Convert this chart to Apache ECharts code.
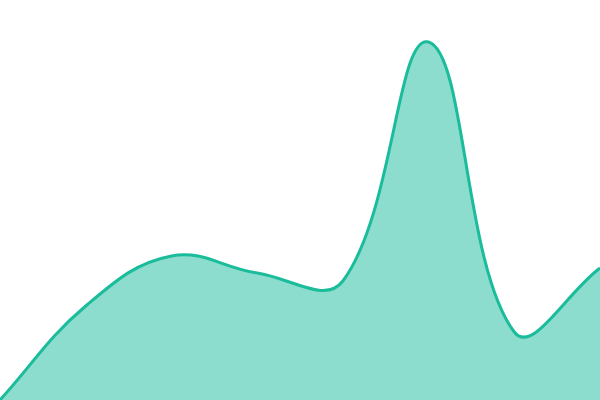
<!DOCTYPE html>
<html>
<head>
<meta charset="utf-8">
<script src="https://cdn.jsdelivr.net/npm/echarts@6/dist/echarts.min.js"></script>
<style>
html,body{margin:0;padding:0;background:#fff;}
#main{width:600px;height:400px;}
</style>
</head>
<body>
<div id="main"></div>
<script>
const categories = ['1', '2', '3', '4', '5', '6', '7', '8'];
const values = [0, 94, 144, 127, 119, 358, 68, 132];
const tension = 0.4;

function renderArea(params, api) {
  const pts = values.map((v, i) => api.coord([i, v]));
  const cs = params.coordSys;
  const n = pts.length;
  const clampX = x => Math.max(cs.x, Math.min(cs.x + cs.width, x));
  const clampY = y => Math.max(cs.y, Math.min(cs.y + cs.height, y));
  const cpPrev = [], cpNext = [];
  for (let i = 0; i < n; i++) {
    const prev = pts[Math.max(0, i - 1)];
    const cur = pts[i];
    const next = pts[Math.min(n - 1, i + 1)];
    const d01 = Math.hypot(cur[0] - prev[0], cur[1] - prev[1]);
    const d12 = Math.hypot(next[0] - cur[0], next[1] - cur[1]);
    const tot = d01 + d12 || 1;
    const fa = tension * d01 / tot;
    const fb = tension * d12 / tot;
    cpPrev[i] = [clampX(cur[0] - fa * (next[0] - prev[0])), clampY(cur[1] - fa * (next[1] - prev[1]))];
    cpNext[i] = [clampX(cur[0] + fb * (next[0] - prev[0])), clampY(cur[1] + fb * (next[1] - prev[1]))];
  }
  let d = 'M' + pts[0][0] + ',' + pts[0][1];
  for (let i = 0; i < n - 1; i++) {
    d += ' C' + cpNext[i][0] + ',' + cpNext[i][1] + ' ' +
      cpPrev[i + 1][0] + ',' + cpPrev[i + 1][1] + ' ' +
      pts[i + 1][0] + ',' + pts[i + 1][1];
  }
  const bottom = cs.y + cs.height;
  const area = d + ' L' + pts[n - 1][0] + ',' + bottom + ' L' + pts[0][0] + ',' + bottom + ' Z';
  return {
    type: 'group',
    children: [
      { type: 'path', shape: { pathData: area }, style: { fill: 'rgba(26,188,156,0.5)', stroke: null } },
      { type: 'path', shape: { pathData: d }, style: { fill: null, stroke: '#1abc9c', lineWidth: 3, lineJoin: 'round' } }
    ]
  };
}

const chart = echarts.init(document.getElementById('main'));
chart.setOption({
  animation: false,
  grid: { left: 0, right: 0, top: 0, bottom: 0 },
  xAxis: { type: 'category', data: categories, boundaryGap: false, show: false },
  yAxis: { type: 'value', min: 0, max: 400, show: false },
  series: [{
    type: 'custom',
    renderItem: renderArea,
    data: [[0, 0]],
    clip: false
  }]
});
</script>
</body>
</html>
